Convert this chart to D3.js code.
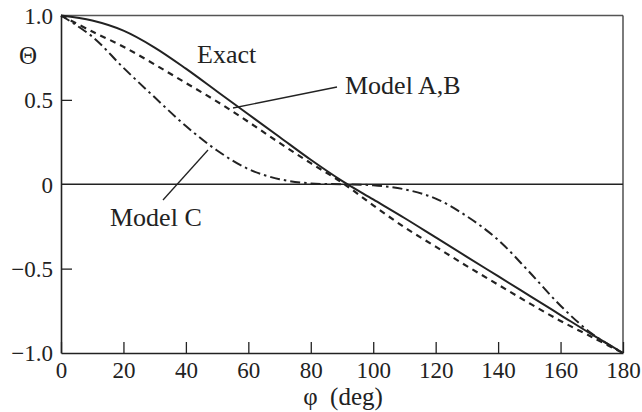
<!DOCTYPE html>
<html>
<head>
<meta charset="utf-8">
<script src="https://cdn.jsdelivr.net/npm/d3@7"></script>
<style>
  body { margin: 0; background: #fff; }
</style>
</head>
<body>
<div id="chart"></div>
<script>
// angle in degrees
const phi = [0, 10, 20, 30, 40, 50, 60, 70, 80, 90, 100, 110, 120, 130, 140, 150, 160, 170, 180];
const exact = [1.0, 0.97, 0.91, 0.81, 0.685, 0.55, 0.415, 0.28, 0.145, 0.02, -0.09, -0.2, -0.315, -0.43, -0.545, -0.66, -0.775, -0.89, -1.0];
const modelAB = [1.0, 0.905, 0.815, 0.71, 0.6, 0.49, 0.37, 0.245, 0.125, 0.01, -0.125, -0.255, -0.37, -0.485, -0.595, -0.705, -0.81, -0.905, -1.0];
const modelC = [1.0, 0.875, 0.69, 0.515, 0.345, 0.2, 0.09, 0.03, 0.005, 0.0, -0.006, -0.03, -0.085, -0.19, -0.33, -0.52, -0.72, -0.885, -1.0];

const xTicks = [0, 20, 40, 60, 80, 100, 120, 140, 160, 180];
const yTicks = [-1.0, -0.5, 0, 0.5, 1.0];
const yTickLabels = ["\u22121.0", "\u22120.5", "0", "0.5", "1.0"];

const W = 642, H = 412;
const margin = { top: 15.5, right: 19, bottom: 59, left: 61 };
const width = W - margin.left - margin.right;
const height = H - margin.top - margin.bottom;
const serif = '"Liberation Serif", "Times New Roman", monospace';
const ink = "#222";

const svg = d3.select("#chart").append("svg")
  .attr("width", W)
  .attr("height", H);

const g = svg.append("g").attr("transform", `translate(${margin.left},${margin.top})`);

const x = d3.scaleLinear().domain([0, 180]).range([0, width]);
const y = d3.scaleLinear().domain([-1, 1]).range([height, 0]);

// frame (top / right a bit lighter)
g.append("line").attr("x1", 0).attr("x2", width).attr("y1", 0).attr("y2", 0)
  .attr("stroke", "#555").attr("stroke-width", 1.6);
g.append("line").attr("x1", width).attr("x2", width).attr("y1", 0).attr("y2", height)
  .attr("stroke", "#444").attr("stroke-width", 1.4);

// x axis, ticks pointing inward
const xAxis = g.append("g")
  .attr("transform", `translate(0,${height})`)
  .call(d3.axisBottom(x).tickValues(xTicks).tickSizeInner(-11).tickSizeOuter(0).tickPadding(9));
xAxis.attr("font-family", null);
xAxis.select(".domain").attr("stroke", ink).attr("stroke-width", 1.6);
xAxis.selectAll(".tick line").attr("stroke", ink).attr("stroke-width", 1.3);
xAxis.selectAll(".tick text")
  .style("font-family", serif)
  .style("font-size", "23px")
  .style("fill", ink);

// y axis, ticks pointing inward
const yAxis = g.append("g")
  .call(d3.axisLeft(y).tickValues(yTicks.filter(d => d !== 0 && Math.abs(d) !== 1))
    .tickSizeInner(-11).tickSizeOuter(0).tickFormat(() => ""));
yAxis.select(".domain").attr("stroke", ink).attr("stroke-width", 1.6);
yAxis.selectAll(".tick line").attr("stroke", ink).attr("stroke-width", 1.3);

// y tick labels
g.selectAll(".ylab")
  .data(yTicks)
  .enter()
  .append("text")
  .attr("class", "ylab")
  .attr("x", -8)
  .attr("y", d => y(d))
  .attr("dy", "0.36em")
  .attr("text-anchor", "end")
  .style("font-family", serif)
  .style("font-size", "23px")
  .style("fill", ink)
  .text((d, i) => yTickLabels[i]);

// zero line
g.append("line")
  .attr("x1", 0).attr("x2", width)
  .attr("y1", y(0)).attr("y2", y(0))
  .attr("stroke", ink).attr("stroke-width", 1.6);

const line = (vals) => d3.line()
  .curve(d3.curveCatmullRom.alpha(0.5))
  .x((d, i) => x(phi[i]))
  .y(d => y(d))(vals);

g.append("path")
  .attr("d", line(modelC))
  .attr("fill", "none")
  .attr("stroke", ink)
  .attr("stroke-width", 2)
  .attr("stroke-dasharray", "10,4,2.5,4");

g.append("path")
  .attr("d", line(modelAB))
  .attr("fill", "none")
  .attr("stroke", ink)
  .attr("stroke-width", 2.2)
  .attr("stroke-dasharray", "6,5");

g.append("path")
  .attr("d", line(exact))
  .attr("fill", "none")
  .attr("stroke", ink)
  .attr("stroke-width", 2);

// annotations
function label(xp, yp, txt, size, anchor) {
  return svg.append("text")
    .attr("x", xp).attr("y", yp)
    .attr("text-anchor", anchor || "start")
    .style("font-family", serif)
    .style("font-size", size + "px")
    .style("fill", ink)
    .style("white-space", "pre")
    .text(txt);
}

label(197, 63, "Exact", 26);

svg.append("line").attr("x1", 233).attr("y1", 108).attr("x2", 337).attr("y2", 87)
  .attr("stroke", ink).attr("stroke-width", 1.3);
label(345, 94, "Model A,B", 26);

svg.append("line").attr("x1", 208).attr("y1", 150).attr("x2", 163).attr("y2", 200)
  .attr("stroke", ink).attr("stroke-width", 1.3);
label(110, 226, "Model C", 26);

// axis labels
label(28, 64, "\u0398", 25, "middle");
label(343, 405, "\u03c6  (deg)", 25, "middle");
</script>
</body>
</html>
